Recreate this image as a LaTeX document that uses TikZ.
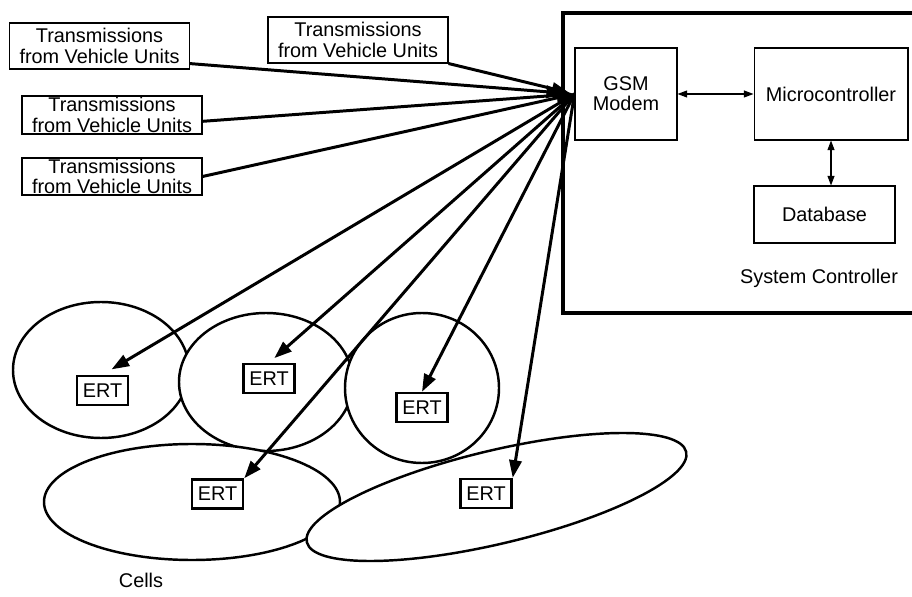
\documentclass[tikz,border=0pt]{standalone}
\usepackage{fontspec}
\setmainfont{Liberation Sans}
\usetikzlibrary{arrows.meta}

\begin{document}
\begin{tikzpicture}[
    x=0.02cm, y=-0.02cm,
    tx/.style={draw, line width=0.6pt, inner sep=0pt, minimum width=3.6cm,
               align=center, font=\fontsize{11.3}{11.5}\selectfont},
    blk/.style={draw, line width=0.6pt, inner sep=0pt,
                align=center, font=\fontsize{11.3}{11.5}\selectfont},
    ert/.style={draw, line width=1.4pt, inner sep=0pt, minimum width=1.02cm,
                minimum height=0.58cm, font=\fontsize{11.3}{11.5}\selectfont},
    cell/.style={draw, fill=white, line width=1.4pt},
    link/.style={-{Triangle[length=10pt,width=7pt]}, line width=1.7pt},
    dbl/.style={{Triangle[length=5.5pt,width=4pt]}-{Triangle[length=5.5pt,width=4pt]},
                line width=0.6pt},
    lbl/.style={font=\fontsize{11.3}{11.5}\selectfont},
]
\useasboundingbox (0,0) rectangle (912,597);
\clip (0,0) rectangle (912,597);

% system controller frame
\draw[line width=2.4pt] (563,13) rectangle (940,313);
\node[blk, minimum width=2.04cm, minimum height=1.84cm] (modem) at (626,94) {GSM\\Modem};
\node[blk, minimum width=3.08cm, minimum height=1.84cm] (micro) at (831,94) {Microcontroller};
\node[blk, minimum width=2.82cm, minimum height=1.14cm] (db) at (824.5,214.5) {Database};
\node[lbl] (sysc) at (819,278) {System Controller};

% transmissions
\node[tx, minimum height=0.92cm] (t1) at (99.5,46) {Transmissions\\from Vehicle Units};
\node[tx, minimum height=0.76cm] (t2) at (112,115) {Transmissions\\from Vehicle Units};
\node[tx, minimum height=0.74cm] (t3) at (112,176.5) {Transmissions\\from Vehicle Units};
\node[tx, minimum height=0.92cm] (t4) at (358,40) {Transmissions\\from Vehicle Units};

% cells
\draw[cell] (101,370) ellipse [x radius=88, y radius=68];
\draw[cell] (266,382) ellipse [x radius=87, y radius=69];
\draw[cell] (422,388) ellipse [x radius=77, y radius=75];
\draw[cell] (192,502) ellipse [x radius=148, y radius=58];
\draw[cell, rotate around={13.4:(496.5,497)}] (496.5,497) ellipse [x radius=195, y radius=46.6];

\node[ert] (ert1) at (102.5,390.5) {ERT};
\node[ert] (ert2) at (269,378.5) {ERT};
\node[ert] (ert3) at (422,407.5) {ERT};
\node[ert] (ert4) at (217.5,494) {ERT};
\node[ert] (ert5) at (486,493.5) {ERT};
\node[lbl] (cells) at (141,580) {Cells};

% links
\draw[link, shorten >=6pt] (t1.-11) -- (modem.west);
\draw[link] (t2.-4) -- (modem.west);
\draw[link] (t3.east) -- (modem.west);
\draw[link, shorten >=3pt] (t4.south east) -- (modem.west);

\draw[link, shorten >=6pt] (modem.west) -- (ert1.north);
\draw[link, shorten >=4pt] (modem.west) -- (ert2.north);
\draw[link] (modem.west) -- (ert3.north);
\draw[link] (modem.west) -- (ert4.north east);
\draw[link] (modem.west) -- (ert5.north east);

\draw[dbl] (modem.east) -- (micro.west);
\draw[dbl] (micro.south) -- (micro.south |- db.north);

\end{tikzpicture}
\end{document}
